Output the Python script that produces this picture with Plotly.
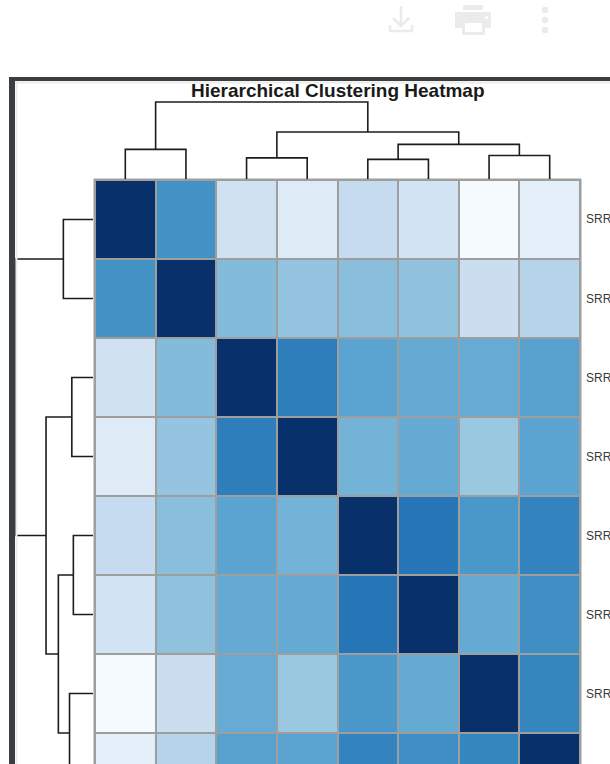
import plotly.graph_objects as go

# Sample labels (same order for rows and columns)
samples = ["SRR1039508", "SRR1039509", "SRR1039512", "SRR1039513",
           "SRR1039516", "SRR1039517", "SRR1039520", "SRR1039521"]

# Sample-to-sample correlation values, already in dendrogram order
corr_row1 = [1.00, 0.625, 0.20, 0.125, 0.25, 0.19, 0.01, 0.09]
corr_row2 = [0.625, 1.00, 0.44, 0.40, 0.427, 0.41, 0.23, 0.30]
corr_row3 = [0.20, 0.44, 1.00, 0.70, 0.55, 0.52, 0.515, 0.56]
corr_row4 = [0.125, 0.40, 0.70, 1.00, 0.478, 0.52, 0.385, 0.55]
corr_row5 = [0.25, 0.427, 0.55, 0.478, 1.00, 0.735, 0.60, 0.68]
corr_row6 = [0.19, 0.41, 0.52, 0.52, 0.735, 1.00, 0.52, 0.635]
corr_row7 = [0.01, 0.23, 0.515, 0.385, 0.60, 0.52, 1.00, 0.675]
corr_row8 = [0.09, 0.30, 0.56, 0.55, 0.68, 0.635, 0.675, 1.00]
corr = [corr_row1, corr_row2, corr_row3, corr_row4,
        corr_row5, corr_row6, corr_row7, corr_row8]

# Linkage: (left node, right node, merge height); leaves are 0..7
merge_left = [4, 2, 6, 0, 8, 9, 11]
merge_right = [5, 3, 7, 1, 10, 12, 13]
merge_height = [0.255, 0.275, 0.305, 0.385, 0.45, 0.61, 1.0]

W, H = 610, 764


def px(x):
    return x / W


def py(y):
    return 1 - y / H


# Build dendrogram segments from the linkage table
pos = {i: float(i) for i in range(len(samples))}
hgt = {i: 0.0 for i in range(len(samples))}
seg_p, seg_h = [], []
for k, (a, b, h) in enumerate(zip(merge_left, merge_right, merge_height)):
    node = len(samples) + k
    seg_p += [pos[a], pos[a], pos[b], pos[b], None]
    seg_h += [hgt[a], h, h, hgt[b], None]
    pos[node] = (pos[a] + pos[b]) / 2
    hgt[node] = h

n = len(samples)
fig = go.Figure()

blues = [[0.0, "#f7fbff"], [0.125, "#deebf7"], [0.25, "#c6dbef"],
         [0.375, "#9ecae1"], [0.5, "#6baed6"], [0.625, "#4292c6"],
         [0.75, "#2171b5"], [0.875, "#08519c"], [1.0, "#08306b"]]

fig.add_trace(go.Heatmap(
    z=corr, x=list(range(n)), y=list(range(n)),
    colorscale=blues, zmin=0, zmax=1, showscale=False,
    xgap=2, ygap=2, hoverinfo="skip",
    xaxis="x", yaxis="y"))

line_style = dict(color="#1c1c1c", width=1.6)
# column dendrogram (top)
fig.add_trace(go.Scatter(x=seg_p, y=seg_h, mode="lines", line=line_style,
                         xaxis="x", yaxis="y3", hoverinfo="skip",
                         showlegend=False))
# row dendrogram (left)
fig.add_trace(go.Scatter(x=seg_h, y=seg_p, mode="lines", line=line_style,
                         xaxis="x2", yaxis="y", hoverinfo="skip",
                         showlegend=False))

row_px = 79.0
y_bottom = (H - 180) / row_px - 0.5

ax_off = dict(visible=False, showgrid=False, zeroline=False, fixedrange=True)

shapes = []
# grey grid lines between cells (shows through the heatmap gaps)
shapes.append(dict(type="rect", xref="paper", yref="paper",
                   x0=px(94), x1=px(581), y0=py(H + 5), y1=py(179),
                   fillcolor="#9e9e9e", line=dict(color="#9e9e9e", width=1),
                   layer="below"))
# viewer frame
frame = "#3b3e41"
shapes.append(dict(type="rect", xref="paper", yref="paper",
                   x0=px(9), x1=px(15), y0=py(H), y1=py(77),
                   fillcolor=frame, line=dict(width=0), layer="above"))
shapes.append(dict(type="rect", xref="paper", yref="paper",
                   x0=px(9), x1=px(W), y0=py(81), y1=py(77),
                   fillcolor=frame, line=dict(width=0), layer="above"))
shapes.append(dict(type="line", xref="paper", yref="paper",
                   x0=px(15), x1=px(W), y0=py(82.5), y1=py(82.5),
                   line=dict(color="#ececec", width=2)))
shapes.append(dict(type="line", xref="paper", yref="paper",
                   x0=px(16.5), x1=px(16.5), y0=py(H), y1=py(81),
                   line=dict(color="#ececec", width=2)))

icon = "#ebebeb"
# download icon
shapes.append(dict(type="line", xref="paper", yref="paper",
                   x0=px(401), x1=px(401), y0=py(6), y1=py(25),
                   line=dict(color=icon, width=2.5)))
shapes.append(dict(type="path", xref="paper", yref="paper",
                   path=f"M {px(393)},{py(18)} L {px(401)},{py(26)} L {px(409)},{py(18)}",
                   line=dict(color=icon, width=2.5)))
shapes.append(dict(type="path", xref="paper", yref="paper",
                   path=f"M {px(390)},{py(25)} L {px(390)},{py(31)} L {px(412)},{py(31)} L {px(412)},{py(25)}",
                   line=dict(color=icon, width=2.5)))
# printer icon
shapes.append(dict(type="rect", xref="paper", yref="paper",
                   x0=px(463), x1=px(483), y0=py(10), y1=py(5),
                   fillcolor=icon, line=dict(width=0)))
shapes.append(dict(type="rect", xref="paper", yref="paper",
                   x0=px(455), x1=px(491), y0=py(28), y1=py(12),
                   fillcolor=icon, line=dict(width=0)))
shapes.append(dict(type="rect", xref="paper", yref="paper",
                   x0=px(462), x1=px(485), y0=py(35), y1=py(21),
                   fillcolor=icon, line=dict(width=0)))
shapes.append(dict(type="rect", xref="paper", yref="paper",
                   x0=px(465), x1=px(482), y0=py(32), y1=py(23),
                   fillcolor="white", line=dict(width=0)))
shapes.append(dict(type="circle", xref="paper", yref="paper",
                   x0=px(485), x1=px(488), y0=py(19), y1=py(16),
                   fillcolor="white", line=dict(width=0)))
# more (vertical dots) icon
for cy in (10, 20, 30):
    shapes.append(dict(type="circle", xref="paper", yref="paper",
                       x0=px(541.7), x1=px(548.3), y0=py(cy + 3.3), y1=py(cy - 3.3),
                       fillcolor=icon, line=dict(width=0)))

annotations = [dict(text="<b>Hierarchical Clustering Heatmap</b>",
                    xref="paper", yref="paper", x=px(337.5), y=py(90.5),
                    xanchor="center", yanchor="middle", showarrow=False,
                    font=dict(family="Liberation Sans, Arial", size=19,
                              color="#1a1a1a"))]
for i, name in enumerate(samples):
    annotations.append(dict(text=name, xref="paper", yref="y",
                            x=px(584), y=i, xanchor="left", yanchor="middle",
                            showarrow=False,
                            font=dict(family="Liberation Sans, Arial",
                                      size=12, color="#3a3a3a")))

fig.update_layout(
    width=W, height=H,
    margin=dict(l=0, r=0, t=0, b=0),
    paper_bgcolor="white", plot_bgcolor="rgba(0,0,0,0)",
    showlegend=False,
    xaxis=dict(domain=[px(95), px(580)], range=[-0.5, n - 0.5],
               anchor="y", **ax_off),
    yaxis=dict(domain=[0, py(180)], range=[y_bottom, -0.5],
               anchor="x", **ax_off),
    xaxis2=dict(domain=[0, px(95)], range=[93 / 77, -2 / 77],
                anchor="y", **ax_off),
    yaxis3=dict(domain=[py(180), py(95)], range=[-1 / 77, 84 / 77],
                anchor="x", **ax_off),
    shapes=shapes,
    annotations=annotations,
)

fig.write_html("out.html")
